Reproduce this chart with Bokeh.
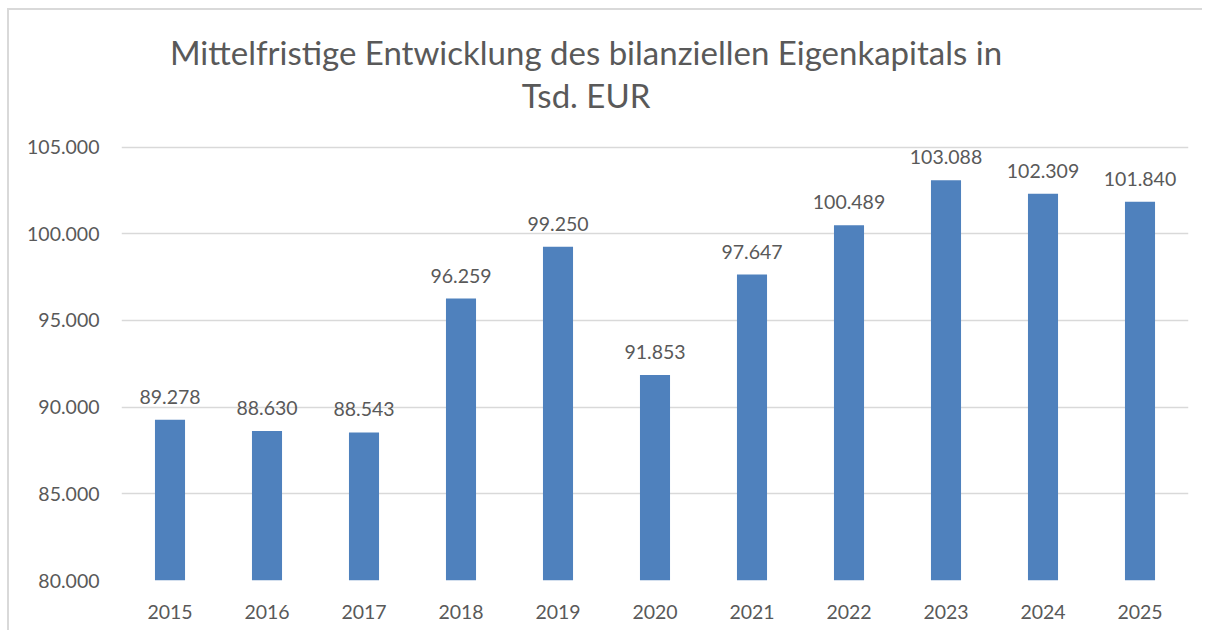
from bokeh.plotting import figure
from bokeh.models import ColumnDataSource, Range1d, FixedTicker, CustomJSTickFormatter
from bokeh.core.properties import value
from bokeh.embed import file_html
from bokeh.resources import INLINE

# ---- data ----
years = ["2015", "2016", "2017", "2018", "2019", "2020", "2021", "2022", "2023", "2024", "2025"]
equity = [89278, 88630, 88543, 96259, 99250, 91853, 97647, 100489, 103088, 102309, 101840]
labels = ["89.278", "88.630", "88.543", "96.259", "99.250", "91.853", "97.647", "100.489", "103.088", "102.309", "101.840"]
y_ticks = [80000, 85000, 90000, 95000, 100000, 105000]
title_lines = ["Mittelfristige Entwicklung des bilanziellen Eigenkapitals in", "Tsd. EUR"]

Y_START = 80000
Y_END = 112300

FONT = "Lato"
GREY = "#595959"
BLUE = "#4f81bd"

src = ColumnDataSource(dict(year=years, val=equity, lab=labels))

p = figure(x_range=years, y_range=Range1d(Y_START, Y_END),
           width=1195, height=622, output_backend="svg", toolbar_location=None,
           min_border_left=112, min_border_right=16, min_border_top=10, min_border_bottom=52)
p.styles = {"border-left": "2px solid #d9d9d9", "border-top": "2px solid #d9d9d9",
            "margin-left": "7px", "margin-top": "8px"}
p.outline_line_color = None
p.background_fill_color = "white"
p.border_fill_color = "white"

p.vbar(x="year", top="val", bottom=Y_START, width=0.31, source=src,
       fill_color=BLUE, line_color=None)

p.text(x="year", y="val", text="lab", source=src, text_align="center",
       text_baseline="alphabetic", y_offset=-23, text_font=value(FONT),
       text_font_size="19.5px", text_color=GREY)

# title (two centered lines)
p.text(x=[years[5]], y=[Y_END], text=[title_lines[0]], text_align="center",
       text_baseline="alphabetic", x_offset=-69, y_offset=31,
       text_font=value(FONT), text_font_size="33px", text_color=GREY)
p.text(x=[years[5]], y=[Y_END], text=[title_lines[1]], text_align="center",
       text_baseline="alphabetic", x_offset=-69, y_offset=74,
       text_font=value(FONT), text_font_size="33px", text_color=GREY)

# y axis
p.yaxis.ticker = FixedTicker(ticks=y_ticks)
p.yaxis.formatter = CustomJSTickFormatter(code="""
return tick.toFixed(0).replace(/\\B(?=(\\d{3})+(?!\\d))/g, '.');
""")
p.yaxis.axis_line_color = None
p.yaxis.major_tick_line_color = None
p.yaxis.minor_tick_line_color = None
p.yaxis.major_label_standoff = 16
p.yaxis.major_label_text_font = FONT
p.yaxis.major_label_text_font_size = "19.5px"
p.yaxis.major_label_text_color = GREY

# x axis
p.xaxis.axis_line_color = None
p.xaxis.major_tick_line_color = None
p.xaxis.minor_tick_line_color = None
p.xaxis.major_label_standoff = 18
p.xaxis.major_label_text_font = FONT
p.xaxis.major_label_text_font_size = "19.5px"
p.xaxis.major_label_text_color = GREY

p.xgrid.grid_line_color = None
p.ygrid.grid_line_color = "#d9d9d9"
p.ygrid.grid_line_width = 1.5

open("out.html", "w").write(file_html(p, INLINE))
